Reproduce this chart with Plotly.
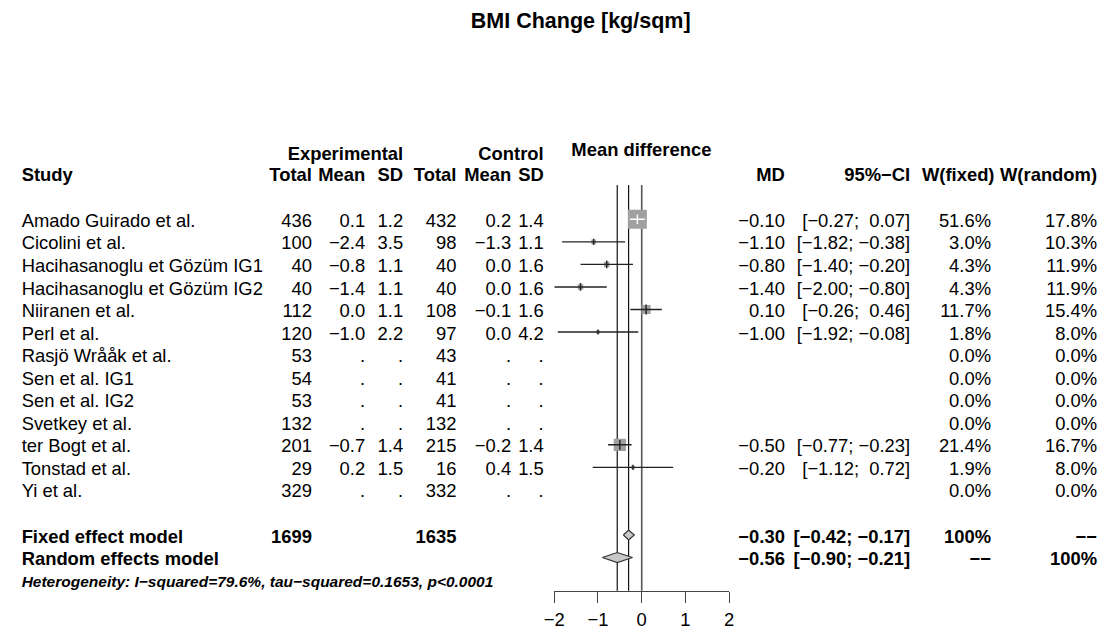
import plotly.graph_objects as go

# ---------------- data ----------------
title = "BMI Change [kg/sqm]"
studies = ["Amado Guirado et al.", "Cicolini et al.", "Hacihasanoglu et Gözüm IG1",
           "Hacihasanoglu et Gözüm IG2", "Niiranen et al.", "Perl et al.",
           "Rasjö Wrååk et al.", "Sen et al. IG1", "Sen et al. IG2", "Svetkey et al.",
           "ter Bogt et al.", "Tonstad et al.", "Yi et al."]
exp_n = [436, 100, 40, 40, 112, 120, 53, 54, 53, 132, 201, 29, 329]
exp_mean = [0.1, -2.4, -0.8, -1.4, 0.0, -1.0, None, None, None, None, -0.7, 0.2, None]
exp_sd = [1.2, 3.5, 1.1, 1.1, 1.1, 2.2, None, None, None, None, 1.4, 1.5, None]
ctrl_n = [432, 98, 40, 40, 108, 97, 43, 41, 41, 132, 215, 16, 332]
ctrl_mean = [0.2, -1.3, 0.0, 0.0, -0.1, 0.0, None, None, None, None, -0.2, 0.4, None]
ctrl_sd = [1.4, 1.1, 1.6, 1.6, 1.6, 4.2, None, None, None, None, 1.4, 1.5, None]
md = [-0.10, -1.10, -0.80, -1.40, 0.10, -1.00, None, None, None, None, -0.50, -0.20, None]
ci_lo = [-0.27, -1.82, -1.40, -2.00, -0.26, -1.92, None, None, None, None, -0.77, -1.12, None]
ci_hi = [0.07, -0.38, -0.20, -0.80, 0.46, -0.08, None, None, None, None, -0.23, 0.72, None]
w_fixed = [51.6, 3.0, 4.3, 4.3, 11.7, 1.8, 0.0, 0.0, 0.0, 0.0, 21.4, 1.9, 0.0]
w_random = [17.8, 10.3, 11.9, 11.9, 15.4, 8.0, 0.0, 0.0, 0.0, 0.0, 16.7, 8.0, 0.0]

summary_labels = ["Fixed effect model", "Random effects model"]
summary_exp_n = [1699, None]
summary_ctrl_n = [1635, None]
summary_md = [-0.30, -0.56]
summary_lo = [-0.42, -0.90]
summary_hi = [-0.17, -0.21]
summary_wf = ["100%", "−−"]
summary_wr = ["−−", "100%"]
heterogeneity = "Heterogeneity: I−squared=79.6%, tau−squared=0.1653, p<0.0001"

x_ticks = [-2, -1, 0, 1, 2]
x_ticklabels = ["−2", "−1", "0", "1", "2"]

# ---------------- layout helpers ----------------
OFF = 8.0                      # body margin of the html page
PW, PH = 1107, 633             # page (reference) size
W, H = PW - OFF, PH - OFF      # figure size
FONT = "Liberation Sans, Arial, sans-serif"
FS = 18.4
ROW0, STEP = 219.3, 22.55
Y_TOP, Y_AXIS = 185.0, 590.7
y_lo = (Y_TOP - ROW0) / STEP
y_hi = (Y_AXIS - ROW0) / STEP
X_LEFT, X_RIGHT = 551.7, 729.0
px_per_unit = (X_RIGHT - X_LEFT) / 4.0


def fx(p):
    return (p - OFF) / W


def fy(p):
    return 1 - (p - OFF) / H


def fmt(v, d=1):
    if v is None:
        return "."
    return f"{v:.{d}f}".replace("-", "−")


def fmt_ci(lo, hi):
    a = fmt(lo, 2)
    b = fmt(hi, 2)
    if not b.startswith("−"):
        b = "\u00a0" + b
    if not a.startswith("−"):
        a = "\u00a0" + a
    return f"[{a};\u00a0{b}]"


fig = go.Figure()
groups = {}


def txt(x, y_cap, s, anchor="right", bold=False, size=FS, italic=False):
    """x, y_cap in reference pixels (y_cap = vertical centre of capitals)."""
    if bold:
        s = f"<b>{s}</b>"
    if italic:
        s = f"<i>{s}</i>"
    key = (anchor, size)
    g = groups.setdefault(key, ([], [], []))
    g[0].append(x)
    g[1].append(y_cap + 0.108 * size)
    g[2].append(s)


def row_y(r):
    return ROW0 + r * STEP + 1.0


# column edges (px in the reference picture)
C_STUDY = 11.7
C_EN, C_EM, C_ES = 306.0, 360.0, 398.5
C_CN, C_CM, C_CS = 452.5, 508.0, 541.0
C_MD, C_CI, C_WF, C_WR = 785.5, 912.5, 994.5, 1102.0

# title and headers
txt(578.5, 20.7, title, anchor="center", bold=True, size=21.5)
txt(C_ES, 153.3, "Experimental", bold=True)
txt(C_CS, 153.3, "Control", bold=True)
txt(640.0, 149.5, "Mean difference", anchor="center", bold=True)
HY = 174.3
txt(C_STUDY, HY, "Study", anchor="left", bold=True)
for x, s in [(C_EN, "Total"), (C_EM, "Mean"), (C_ES, "SD"), (C_CN, "Total"),
             (C_CM, "Mean"), (C_CS, "SD"), (C_MD, "MD"), (C_CI, "95%−CI"),
             (998.0, "W(fixed)"), (C_WR, "W(random)")]:
    txt(x, HY, s, bold=True)

# study rows
for i, name in enumerate(studies):
    y = row_y(i)
    txt(C_STUDY, y, name, anchor="left")
    txt(C_EN, y, str(exp_n[i]))
    txt(C_EM, y, fmt(exp_mean[i]))
    txt(C_ES, y, fmt(exp_sd[i]))
    txt(C_CN, y, str(ctrl_n[i]))
    txt(C_CM, y, fmt(ctrl_mean[i]))
    txt(C_CS, y, fmt(ctrl_sd[i]))
    if md[i] is not None:
        txt(C_MD, y, fmt(md[i], 2))
        txt(C_CI, y, fmt_ci(ci_lo[i], ci_hi[i]))
    txt(C_WF, y, f"{w_fixed[i]:.1f}%")
    txt(C_WR, y, f"{w_random[i]:.1f}%")

# summary rows
n = len(studies)
for k, lab in enumerate(summary_labels):
    y = row_y(n + 1 + k)
    txt(C_STUDY, y, lab, anchor="left", bold=True)
    if summary_exp_n[k] is not None:
        txt(C_EN, y, str(summary_exp_n[k]), bold=True)
    if summary_ctrl_n[k] is not None:
        txt(C_CN, y, str(summary_ctrl_n[k]), bold=True)
    txt(C_MD, y, fmt(summary_md[k], 2), bold=True)
    txt(C_CI, y, fmt_ci(summary_lo[k], summary_hi[k]), bold=True)
    txt(C_WF, y, summary_wf[k], bold=True)
    txt(C_WR, y, summary_wr[k], bold=True)

txt(C_STUDY, row_y(n + 3), heterogeneity, anchor="left", bold=True, italic=True, size=15.5)

# ---------------- forest marks ----------------
SQ_MAX = 19.0
w_max = max(w_fixed)
for i in range(n):
    if md[i] is None:
        continue
    s = SQ_MAX * (w_fixed[i] / w_max) ** 0.5
    ci_px = (ci_hi[i] - ci_lo[i]) * px_per_unit
    col = "white" if ci_px < s else "#222222"
    fig.add_trace(go.Scatter(x=[md[i]], y=[i], mode="markers", hoverinfo="skip",
                             marker=dict(symbol="square", size=s, color="#a0a0a0",
                                         line=dict(width=0))))
    fig.add_trace(go.Scatter(x=[ci_lo[i], ci_hi[i]], y=[i, i], mode="lines", hoverinfo="skip",
                             line=dict(color=col, width=1.4), cliponaxis=False))
    fig.add_trace(go.Scatter(x=[md[i]], y=[i], mode="markers", hoverinfo="skip",
                             marker=dict(symbol="line-ns", size=min(s, 7.0),
                                         line=dict(color=col, width=1.4))))

DH = 5.0 / STEP
for k in range(2):
    r = n + 1 + k
    fig.add_trace(go.Scatter(
        x=[summary_lo[k], summary_md[k], summary_hi[k], summary_md[k], summary_lo[k]],
        y=[r, r - DH, r, r + DH, r], mode="lines", fill="toself", fillcolor="#c8c8c8",
        line=dict(color="#333333", width=1.2), hoverinfo="skip"))

# text traces on a full-figure pixel subplot
pos_map = {"left": "middle right", "right": "middle left", "center": "middle center"}
for (anchor, size), (xs, ys, ts) in groups.items():
    fig.add_trace(go.Scatter(x=xs, y=ys, text=ts, mode="text", xaxis="x2", yaxis="y2",
                             textposition=pos_map[anchor], hoverinfo="skip", cliponaxis=False,
                             textfont=dict(family=FONT, size=size, color="black")))

shapes = []
for xv, colr, wd in [(0, "#555555", 1.6), (summary_md[0], "#111111", 1.2), (summary_md[1], "#111111", 1.2)]:
    shapes.append(dict(type="line", xref="x", yref="y domain", x0=xv, x1=xv, y0=0, y1=1,
                       line=dict(color=colr, width=wd), layer="below"))

fig.update_layout(
    width=W, height=H, margin=dict(l=0, r=0, t=0, b=0),
    plot_bgcolor="rgba(0,0,0,0)", paper_bgcolor="white", showlegend=False,
    xaxis=dict(domain=[fx(X_LEFT), fx(X_RIGHT)], range=[-2, 2], showgrid=False, zeroline=False,
               showline=True, linecolor="#444444", linewidth=1.3, ticks="outside", ticklen=11.6,
               tickwidth=1.3, tickcolor="#444444", tickvals=x_ticks, ticktext=x_ticklabels,
               tickfont=dict(family=FONT, size=FS, color="black"), fixedrange=True),
    yaxis=dict(domain=[fy(Y_AXIS), fy(Y_TOP)], range=[y_hi, y_lo], visible=False, fixedrange=True),
    xaxis2=dict(domain=[0, 1], range=[OFF, PW], visible=False, anchor="y2", fixedrange=True),
    yaxis2=dict(domain=[0, 1], range=[PH, OFF], visible=False, anchor="x2", fixedrange=True),
    shapes=shapes,
)

fig.write_html("out.html")
